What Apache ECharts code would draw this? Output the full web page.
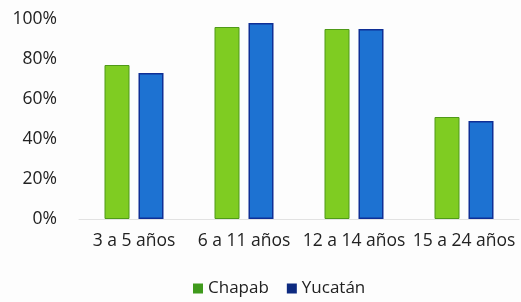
<!DOCTYPE html>
<html>
<head>
<meta charset="utf-8">
<script src="https://cdn.jsdelivr.net/npm/echarts@6/dist/echarts.min.js"></script>
<style>
  html, body { margin: 0; padding: 0; background: #fdfdfd; }
  #chart { width: 521px; height: 302px; }
</style>
</head>
<body>
<div id="chart"></div>
<script>
// datos
var categorias = ["3 a 5 años", "6 a 11 años", "12 a 14 años", "15 a 24 años"];
var chapab = [77, 96, 95, 51];
var yucatan = [73, 98, 95, 49];
var ticksY = ["0%", "20%", "40%", "60%", "80%", "100%"];

var chart = echarts.init(document.getElementById("chart"));

var option = {
  backgroundColor: "#fdfdfd",
  textStyle: { fontFamily: "Open Sans" },
  grid: { left: 79, right: 2, top: 19, bottom: 83 },
  legend: {
    bottom: 0,
    left: 188,
    itemWidth: 10,
    itemHeight: 10,
    itemGap: 18,
    icon: "rect",
    textStyle: { fontSize: 17, color: "#222" },
    data: [
      { name: "Chapab", itemStyle: { color: "#3f9a1c", borderWidth: 0 } },
      { name: "Yucatán", itemStyle: { color: "#0d2a80", borderWidth: 0 } }
    ]
  },
  xAxis: {
    type: "category",
    data: categorias,
    axisTick: { show: false },
    axisLine: { lineStyle: { color: "#e2e2e2" } },
    axisLabel: { color: "#222", fontSize: 17.5, margin: 13, interval: 0 }
  },
  yAxis: {
    type: "value",
    min: 0,
    max: 100,
    interval: 20,
    splitLine: { show: false },
    axisLabel: {
      color: "#222",
      fontSize: 17.5,
      margin: 22,
      formatter: function (v) { return ticksY[v / 20]; }
    }
  },
  series: [
    {
      name: "Chapab",
      type: "bar",
      data: chapab,
      barWidth: 25,
      barGap: "36%",
      itemStyle: { color: "#7fcc22", borderColor: "#4f9a18", borderWidth: 1 }
    },
    {
      name: "Yucatán",
      type: "bar",
      data: yucatan,
      barWidth: 25,
      itemStyle: { color: "#1d72d2", borderColor: "#0f2f96", borderWidth: 1.5 }
    }
  ]
};

chart.setOption(option);
</script>
</body>
</html>
